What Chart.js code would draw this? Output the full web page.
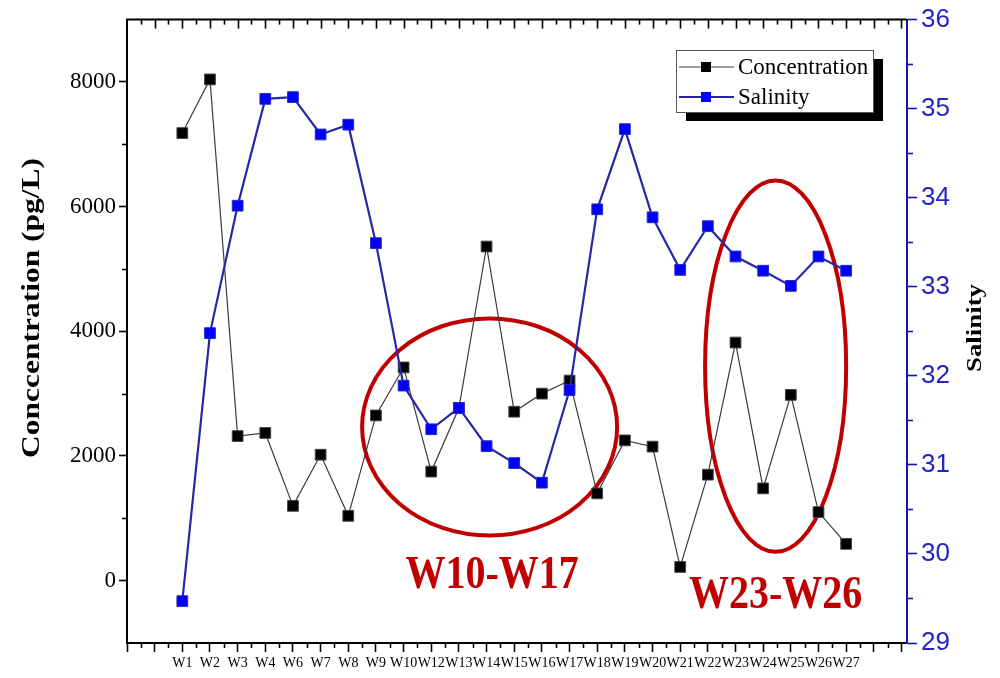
<!DOCTYPE html>
<html>
<head>
<meta charset="utf-8">
<script src="https://cdn.jsdelivr.net/npm/chart.js@4.4.1/dist/chart.umd.min.js"></script>
<style>
  html, body { margin: 0; padding: 0; background: #fff; }
  #wrap { width: 1000px; height: 678px; }
</style>
</head>
<body>
<div id="wrap"><canvas id="c" width="1000" height="678"></canvas></div>
<script>
// sampling weeks (W5 and W11 missing)
const weeks = ['W1','W2','W3','W4','W6','W7','W8','W9','W10','W12','W13','W14','W15','W16','W17','W18','W19','W20','W21','W22','W23','W24','W25','W26','W27'];
// concentration, pg/L
const concentration = [7180, 8040, 2320, 2370, 1200, 2020, 1040, 2650, 3420, 1750, 2770, 5360, 2710, 3000, 3210, 1400, 2250, 2150, 220, 1700, 3820, 1480, 2980, 1100, 590];
// salinity
const salinity = [29.47, 32.48, 33.91, 35.11, 35.13, 34.71, 34.82, 33.49, 31.89, 31.40, 31.64, 31.21, 31.02, 30.80, 31.84, 33.87, 34.77, 33.78, 33.19, 33.68, 33.34, 33.18, 33.01, 33.34, 33.18];
const concTicks = [0, 2000, 4000, 6000, 8000];
const salTicks = [29, 30, 31, 32, 33, 34, 35, 36];
const groupLabels = ['W10-W17', 'W23-W26'];

const RED = '#c00000';
const BLUE_AX = '#1515b5';

// ellipses + labels in data units (x = week index, y = concentration)
const marks = [
  { cx: 11.11, cy: 2466, rx: 4.61, ry: 1741, tx: 11.2, ty: 80 },
  { cx: 21.45, cy: 3441, rx: 2.55, ry: 2979, tx: 21.45, ty: -250 }
];

function line(ctx, x1, y1, x2, y2) {
  ctx.beginPath(); ctx.moveTo(x1, y1); ctx.lineTo(x2, y2); ctx.stroke();
}

// stretched text (the figure looks a bit stretched vertically)
function rotText(ctx, txt, x, y, font, len) {
  ctx.save();
  ctx.translate(x, y);
  ctx.rotate(-Math.PI / 2);
  ctx.font = font;
  const w = ctx.measureText(txt).width;
  ctx.scale(len / w, 1);
  ctx.textAlign = 'center';
  ctx.textBaseline = 'middle';
  ctx.fillStyle = '#000';
  ctx.fillText(txt, 0, 0);
  ctx.restore();
}

const decor = {
  id: 'decor',
  beforeDatasetsDraw(chart) {
    const { ctx } = chart;
    const sx = chart.scales.x, sy = chart.scales.y;
    ctx.save();
    ctx.strokeStyle = RED;
    ctx.lineWidth = 4;
    marks.forEach(m => {
      const cx = sx.getPixelForValue(m.cx), cy = sy.getPixelForValue(m.cy);
      const rx = Math.abs(sx.getPixelForValue(m.cx + m.rx) - cx);
      const ry = Math.abs(sy.getPixelForValue(m.cy + m.ry) - cy);
      ctx.beginPath();
      ctx.ellipse(cx, cy, rx, ry, 0, 0, Math.PI * 2);
      ctx.stroke();
    });
    ctx.restore();
  },
  afterDraw(chart) {
    const { ctx, chartArea: a } = chart;
    const sx = chart.scales.x, sy = chart.scales.y, sr = chart.scales.y1;
    ctx.save();
    ctx.strokeStyle = '#000';
    ctx.lineWidth = 2;
    line(ctx, a.left - 1, a.top, a.right, a.top);

    // x ticks: top (inward, major + minor), bottom minor (outward)
    ctx.lineWidth = 1.6;
    for (let v = -2; v <= 26.2; v += 0.5) {
      const px = Math.round(sx.getPixelForValue(v)) + 0.5;
      const major = Number.isInteger(v);
      if (v > -2) line(ctx, px, a.top, px, a.top + (major ? 9 : 5));
      if (!major) line(ctx, px, a.bottom, px, a.bottom + 5);
    }
    // left minor ticks
    [1000, 3000, 5000, 7000].forEach(v => {
      const py = Math.round(sy.getPixelForValue(v)) + 0.5;
      line(ctx, a.left, py, a.left - 5, py);
    });
    // right minor ticks
    ctx.strokeStyle = BLUE_AX;
    for (let v = 29.5; v < 36; v += 1) {
      const py = Math.round(sr.getPixelForValue(v)) + 0.5;
      line(ctx, a.right, py, a.right + 6, py);
    }

    // axis titles
    rotText(ctx, 'Conccentration (pg/L)', 33, 308, 'bold 25px "Liberation Serif"', 300);
    rotText(ctx, 'Salinity', 975, 328, 'bold 22px "Liberation Serif"', 88);

    // group labels
    ctx.fillStyle = RED;
    ctx.font = 'bold 40px "Liberation Serif"';
    ctx.textAlign = 'center';
    ctx.textBaseline = 'middle';
    marks.forEach((m, i) => {
      ctx.save();
      const tx = sx.getPixelForValue(m.tx), ty = sy.getPixelForValue(m.ty);
      ctx.translate(tx, ty);
      ctx.scale(1, 1.15);
      ctx.fillText(groupLabels[i], 0, 0);
      ctx.restore();
    });

    // legend with drop shadow
    const lx = 676, ly = 50, lw = 197, lh = 62;
    ctx.fillStyle = '#000';
    ctx.fillRect(lx + 10, ly + 9, lw, lh);
    ctx.fillStyle = '#fff';
    ctx.fillRect(lx, ly, lw, lh);
    ctx.strokeStyle = '#555';
    ctx.lineWidth = 1;
    ctx.strokeRect(lx + 0.5, ly + 0.5, lw, lh);
    ctx.font = '23px "Liberation Serif"';
    ctx.textAlign = 'left';
    chart.data.datasets.forEach((ds, i) => {
      const yy = ly + 17 + i * 30;
      ctx.strokeStyle = ds.borderColor;
      ctx.lineWidth = i === 0 ? 1.2 : 1.8;
      line(ctx, lx + 3, yy, lx + 58, yy);
      ctx.fillStyle = ds.pointBackgroundColor;
      ctx.fillRect(lx + 25, yy - 5, 10, 10);
      ctx.fillStyle = '#000';
      ctx.fillText(ds.label, lx + 62, yy + 1);
    });
    ctx.restore();
  }
};

new Chart(document.getElementById('c'), {
  type: 'line',
  data: {
    datasets: [
      {
        label: 'Concentration',
        data: concentration.map((v, i) => ({ x: i, y: v })),
        yAxisID: 'y',
        borderColor: '#3a3a3a',
        borderWidth: 1.2,
        pointStyle: 'rect',
        pointRadius: 7.6,
        pointBackgroundColor: '#000',
        pointBorderColor: '#444',
        pointBorderWidth: 1,
        tension: 0,
        order: 2
      },
      {
        label: 'Salinity',
        data: salinity.map((v, i) => ({ x: i, y: v })),
        yAxisID: 'y1',
        borderColor: '#2626a6',
        borderWidth: 2.2,
        pointStyle: 'rect',
        pointRadius: 7.6,
        pointBackgroundColor: '#0000ff',
        pointBorderColor: '#2a2ac0',
        pointBorderWidth: 1,
        tension: 0,
        order: 1
      }
    ]
  },
  options: {
    responsive: false,
    animation: false,
    devicePixelRatio: 1,
    events: [],
    layout: { padding: { top: 17, left: 0, right: 0, bottom: 0 } },
    plugins: { legend: { display: false }, tooltip: { enabled: false } },
    scales: {
      x: {
        type: 'linear',
        min: -2,
        max: 26.2,
        afterBuildTicks(scale) {
          const t = [];
          for (let v = -2; v <= 26; v++) t.push({ value: v });
          scale.ticks = t;
        },
        afterFit(scale) { scale.height = 35; },
        ticks: {
          autoSkip: false,
          maxRotation: 0,
          padding: 3,
          color: '#000',
          font: { family: 'Liberation Serif', size: 14 },
          callback: v => weeks[v] || ''
        },
        grid: { drawOnChartArea: false, tickLength: 9, tickColor: '#000', tickWidth: 1.6 },
        border: { color: '#000', width: 2 }
      },
      y: {
        position: 'left',
        min: -1000,
        max: 9000,
        afterBuildTicks(scale) { scale.ticks = concTicks.map(v => ({ value: v })); },
        afterFit(scale) { scale.width = 127; },
        ticks: {
          padding: 3,
          color: '#000',
          font: { family: 'Liberation Serif', size: 23 },
          callback: v => String(v)
        },
        grid: { drawOnChartArea: false, tickLength: 8, tickColor: '#000', tickWidth: 1.6 },
        border: { color: '#000', width: 2 }
      },
      y1: {
        position: 'right',
        min: 29,
        max: 36,
        afterBuildTicks(scale) { scale.ticks = salTicks.map(v => ({ value: v })); },
        afterFit(scale) { scale.width = 93; },
        ticks: {
          padding: 4,
          color: '#2424c4',
          font: { family: 'Liberation Sans', size: 26 },
          callback: v => String(v)
        },
        grid: { drawOnChartArea: false, tickLength: 10, tickColor: BLUE_AX, tickWidth: 1.6 },
        border: { color: BLUE_AX, width: 2 }
      }
    }
  },
  plugins: [decor]
});
</script>
</body>
</html>
